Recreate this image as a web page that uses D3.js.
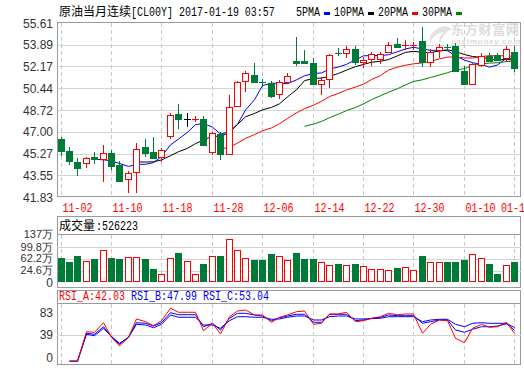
<!DOCTYPE html>
<html><head><meta charset="utf-8">
<script src="https://cdn.jsdelivr.net/npm/d3@7"></script>
<style>body{margin:0;background:#fff;overflow:hidden}</style>
</head><body><svg id="c" width="524" height="369"></svg>
<script>
const dates = ["11-02","11-03","11-04","11-07","11-08","11-09","11-10","11-11","11-14","11-15","11-16","11-17","11-18","11-21","11-22","11-23","11-24","11-25","11-28","11-29","11-30","12-01","12-02","12-05","12-06","12-07","12-08","12-09","12-12","12-13","12-14","12-15","12-16","12-19","12-20","12-21","12-22","12-23","12-26","12-27","12-28","12-29","12-30","01-03","01-04","01-05","01-06","01-09","01-10","01-11","01-12","01-13","01-16","01-17","01-18"];
const open  = [46.40,45.47,44.60,44.50,45.00,44.86,45.31,44.34,43.23,43.79,45.77,45.39,45.02,46.66,48.38,47.98,47.97,47.98,45.42,46.82,45.24,49.04,51.04,51.49,50.90,50.88,49.96,50.96,52.60,52.60,52.42,50.80,51.15,53.25,53.21,53.53,52.55,52.74,52.74,53.34,53.92,53.79,53.79,54.21,52.55,53.47,53.69,53.81,51.81,50.78,52.28,53.02,53.08,52.81,53.34];
const close = [45.50,44.70,44.15,44.89,44.84,45.29,44.28,43.12,43.71,45.65,45.34,44.94,45.55,48.30,47.98,47.98,48.01,45.97,46.87,45.24,48.93,50.91,51.63,50.96,50.86,49.85,50.91,51.44,52.47,52.47,50.78,51.10,53.05,53.22,53.53,52.55,52.70,53.18,53.18,53.87,53.73,53.83,53.83,52.50,53.34,53.73,53.67,51.83,50.78,52.34,53.02,52.60,52.68,53.55,52.07];
const high  = [46.55,45.81,44.89,45.02,45.39,45.95,45.55,44.68,43.87,46.13,46.45,46.61,45.71,48.51,49.20,48.46,48.24,48.24,47.00,47.00,49.91,51.04,51.81,52.42,51.17,51.04,51.10,51.65,54.48,53.47,52.84,51.31,53.18,53.61,53.81,53.81,52.94,53.34,53.29,54.13,54.40,54.26,54.13,55.32,53.53,53.95,53.92,54.00,52.23,52.42,53.21,53.21,53.21,53.81,53.81];
const low   = [45.05,44.39,43.52,44.15,44.44,43.04,43.97,43.02,42.17,42.17,44.98,44.84,44.58,46.45,47.19,47.40,47.79,45.89,45.18,44.76,45.18,48.96,50.15,50.88,50.52,49.69,49.59,50.75,52.23,52.34,50.75,49.91,50.49,52.97,52.86,52.28,52.07,52.23,52.36,53.21,53.65,53.47,53.47,52.15,52.15,52.86,53.39,51.75,50.70,50.70,52.15,52.50,52.60,52.55,51.75];
// volume, in 万
const volume = [66.6,53.7,72.0,55.9,62.4,91.3,66.6,62.4,67.8,67.8,62.4,30.2,13.2,64.6,82.6,55.9,13.2,46.3,72.0,72.0,125.7,91.3,64.6,59.2,59.2,78.5,72.0,59.2,82.6,62.4,62.4,52.7,43.1,46.3,43.1,46.3,39.9,30.2,30.2,27.0,34.4,36.7,27.0,72.0,52.7,52.7,52.7,52.7,59.2,78.5,65.6,46.3,14.1,43.1,52.6223];
const lastVolume = "526223";
const rsiA = [null,-12,-12,45.2,44.0,62.6,34.3,17.4,34.3,69.8,64.5,56.8,66.5,90.5,82.8,82.8,82.8,47.1,61.4,40.7,74.2,85.3,87.2,77.5,77.5,63.4,73.1,77.5,83.9,85.3,59.5,61.4,79.5,79.5,82.8,64.5,66.5,71.1,74.2,80.8,78.1,79.5,79.5,42.1,59.5,67.8,66.5,32.4,23.8,51.7,59.5,53.7,54.8,63.4,42.03];
const rsiB = [null,-12,-12,42.1,40.1,54.8,35,20.7,34.3,62.6,61.4,56.2,62.6,82.0,78.1,78.1,78.1,54.8,61.4,48.4,71.1,80.8,80.8,77.5,75.6,66.5,72.3,75.6,78.9,78.9,63.4,63.4,78.9,78.9,78.9,66.5,67.8,71.0,73.1,77.5,76.2,76.2,76.2,61.4,64.5,67.8,67.8,48.4,44.0,49.8,54.8,54.8,56.2,60.5,47.99];
const rsiC = [null,-12,-12,40.1,37.4,51.7,36,22.7,34.5,59.5,58.1,52.9,59.5,77.5,73.1,73.1,73.1,58.1,58.1,51.7,66.5,74.2,74.2,73.1,73.1,69.2,69.8,73.1,75.6,75.6,67.8,67.8,74.2,75.6,75.6,69.8,69.8,70.5,71.1,74.2,74.2,74.2,74.2,64.5,67.8,69.2,69.2,59.5,54.8,61.4,62.6,61.4,61.4,61.4,53.04];
const priceTicks = [55.61,53.89,52.17,50.44,48.72,47.00,45.27,43.55,41.83];
const volTicks = [137,99.8,62.2,24.6];
const volTickLabels = ["137万","99.8万","62.2万","24.6万"];
const rsiTicks = [83,39];
const maPeriods = [5,10,20,30];
const maColors = ["#0000ff","#000000","#ff0000","#008000"];
const maNames = ["5PMA","10PMA","20PMA","30PMA"];

const RED = "#ff0000", GREEN = "#007a37", BORDER = "#9a9a9a", GRID = "#d4d4d4", VGRID = "#c8c8c8";
const svg = d3.select("#c");
const L = 57, R = 521;
const x = d3.scaleLinear().domain([0, dates.length - 1]).range([60.5, 514.1]);
const cx = i => Math.round(x(i)) + 0.5;
const yP = d3.scaleLinear().domain([41.83, 55.61]).range([197, 23]);
const yV = d3.scaleLinear().domain([-13, 137]).range([282.4, 235.7]);
const yR = d3.scaleLinear().domain([0, 100]).range([355, 303.4]);
const mono = "'Liberation Mono','DejaVu Sans Mono',monospace";
const cjk = "'Noto Sans CJK SC','Noto Sans',sans-serif";
const sans = "'Liberation Sans',Arial,sans-serif";
// narrow monospace text (6px per character, like a bitmap SimSun)
function monoText(g, tx, ty, str, fill) {
  return g.append("text").attr("transform", `translate(${tx},${ty}) scale(0.8333,1)`)
    .attr("font-family", mono).attr("font-size", 12).attr("fill", fill || "#000").text(str);
}

// ---------- title & legend
svg.append("text").attr("x", 59).attr("y", 16).attr("font-family", cjk).attr("font-size", 12).attr("fill", "#000").text("原油当月连续");
monoText(svg, 131, 16, "[CL00Y] 2017-01-19 03:57");
let lx = 296;
maNames.forEach((n, k) => {
  const w = n.length * 6;
  monoText(svg, lx, 16, n);
  svg.append("rect").attr("x", lx + w + 4).attr("y", 12).attr("width", 6).attr("height", 3).attr("fill", maColors[k]);
  lx += w + 14;
});

// ---------- watermark
svg.append("path").attr("d", "M446,26 C436,27 428,34 430,43 C432,37 437,33 444,32 C440,36 438,40 440,44 C442,36 446,31 452,29 Z")
  .attr("fill", "#e2e2e2");
svg.append("text").attr("x", 451).attr("y", 34).attr("font-family", cjk).attr("font-size", 13).attr("font-weight", "bold")
  .attr("fill", "#dcdcdc").attr("textLength", 68).text("东方财富网");
svg.append("text").attr("x", 451).attr("y", 44).attr("font-family", sans).attr("font-size", 8).attr("font-weight", "bold").attr("font-style", "italic")
  .attr("fill", "#dcdcdc").attr("textLength", 69).text("eastmoney.com");

// ---------- grids helpers
const labelIdx = d3.range(0, dates.length, 6);
function vgrid(y0, y1) {
  svg.append("g").selectAll("line").data(labelIdx).join("line")
    .attr("x1", i => cx(i)).attr("x2", i => cx(i)).attr("y1", y0).attr("y2", y1)
    .attr("stroke", VGRID).attr("stroke-dasharray", "4,3");
}

// ---------- main panel
const gMain = svg.append("g");
gMain.selectAll("line.h").data(priceTicks.slice(1, -1)).join("line")
  .attr("x1", L).attr("x2", R).attr("y1", d => Math.round(yP(d)) + 0.5).attr("y2", d => Math.round(yP(d)) + 0.5)
  .attr("stroke", GRID);
vgrid(yP(55.61), yP(41.83));
gMain.selectAll("text.pl").data(priceTicks).join("text")
  .attr("x", 53).attr("y", d => yP(d) + 4.5).attr("text-anchor", "end")
  .attr("font-family", sans).attr("font-size", 12).attr("fill", "#333").text(d => d.toFixed(2));

// MA lines
maPeriods.forEach((p, k) => {
  const ma = close.map((_, i) => i < p - 1 ? null : d3.mean(close.slice(i - p + 1, i + 1)));
  const line = d3.line().defined(d => d != null).x((d, i) => cx(i)).y(d => yP(d));
  svg.append("path").attr("d", line(ma)).attr("fill", "none").attr("stroke", maColors[k]).attr("stroke-width", 1);
});

// candles
const gC = svg.append("g").attr("shape-rendering", "crispEdges");
dates.forEach((d, i) => {
  const o = open[i], c = close[i], h = high[i], l = low[i];
  const up = c > o, flat = c === o;
  const col = flat ? "#000" : (up ? RED : GREEN);
  const xc = cx(i);
  const yt = Math.round(yP(Math.max(o, c))), yb = Math.round(yP(Math.min(o, c)));
  const yh = Math.round(yP(h)), yl = Math.round(yP(l));
  if (yb - yt < 2) {
    gC.append("line").attr("x1", xc).attr("x2", xc).attr("y1", yh).attr("y2", yl).attr("stroke", col);
    gC.append("line").attr("x1", xc - 3.5).attr("x2", xc + 3.5).attr("y1", yt + 0.5).attr("y2", yt + 0.5).attr("stroke", col).attr("stroke-width", Math.max(1, yb - yt));
  } else if (up) {
    gC.append("line").attr("x1", xc).attr("x2", xc).attr("y1", yh).attr("y2", yt).attr("stroke", col);
    gC.append("line").attr("x1", xc).attr("x2", xc).attr("y1", yb).attr("y2", yl).attr("stroke", col);
    gC.append("rect").attr("x", xc - 3).attr("y", yt + 0.5).attr("width", 6).attr("height", yb - yt)
      .attr("fill", "#fff").attr("stroke", col);
  } else {
    gC.append("line").attr("x1", xc).attr("x2", xc).attr("y1", yh).attr("y2", yl).attr("stroke", col);
    gC.append("rect").attr("x", xc - 3.5).attr("y", yt).attr("width", 7).attr("height", yb - yt + 1).attr("fill", col);
  }
});
svg.append("rect").attr("x", L + 0.5).attr("y", Math.round(yP(55.61)) - 0.5).attr("width", R - L - 1)
  .attr("height", Math.round(yP(41.83)) - Math.round(yP(55.61))).attr("fill", "none").attr("stroke", BORDER);

// date labels (the last one runs off the right edge, as in the source)
const gD = svg.append("g");
labelIdx.forEach(i => monoText(gD, Math.min(cx(i) + 1, 501), 212, dates[i], RED));

// ---------- volume panel
svg.append("rect").attr("x", L + 0.5).attr("y", 216.5).attr("width", R - L - 1).attr("height", 71).attr("fill", "none").attr("stroke", BORDER);
svg.append("line").attr("x1", L).attr("x2", R).attr("y1", 234.5).attr("y2", 234.5).attr("stroke", BORDER);
svg.append("g").selectAll("line").data(volTicks.slice(1)).join("line")
  .attr("x1", L).attr("x2", R).attr("y1", d => Math.round(yV(d)) + 0.5).attr("y2", d => Math.round(yV(d)) + 0.5).attr("stroke", GRID);
vgrid(235, 282);
svg.append("text").attr("x", 59).attr("y", 230).attr("font-family", cjk).attr("font-size", 12).text("成交量");
monoText(svg, 96, 230, ":" + lastVolume);
const gV = svg.append("g").attr("shape-rendering", "crispEdges");
volume.forEach((v, i) => {
  const up = close[i] >= open[i];
  const xc = cx(i), yt = Math.round(yV(v)), yb = Math.round(yV(-13));
  if (up) gV.append("rect").attr("x", xc - 3).attr("y", yt + 0.5).attr("width", 6).attr("height", yb - yt - 1).attr("fill", "#fff").attr("stroke", RED);
  else gV.append("rect").attr("x", xc - 3.5).attr("y", yt).attr("width", 7).attr("height", yb - yt).attr("fill", GREEN);
});
svg.append("g").selectAll("text").data(volTicks).join("text")
  .attr("x", 53).attr("y", (d, k) => yV(d) + (k === 0 ? 2.5 : 3.5)).attr("text-anchor", "end")
  .attr("font-family", sans).attr("font-size", 11).attr("fill", "#333").text((d, k) => volTickLabels[k]);
svg.append("text").attr("x", 53).attr("y", yV(-13) + 4.5).attr("text-anchor", "end")
  .attr("font-family", sans).attr("font-size", 12).attr("fill", "#333").text("0");

// ---------- RSI panel
svg.append("rect").attr("x", L + 0.5).attr("y", 290.5).attr("width", R - L - 1).attr("height", 74).attr("fill", "none").attr("stroke", BORDER);
svg.append("line").attr("x1", L).attr("x2", R).attr("y1", 303.5).attr("y2", 303.5).attr("stroke", BORDER);
svg.append("line").attr("x1", L).attr("x2", R).attr("y1", Math.round(yR(39)) + 0.5).attr("y2", Math.round(yR(39)) + 0.5).attr("stroke", GRID);
vgrid(304, 364);
const hdr = [["RSI_A:" + rsiA[54].toFixed(2), RED], ["RSI_B:" + rsiB[54].toFixed(2), "#0000ff"], ["RSI_C:" + rsiC[54].toFixed(2), "#0000ff"]];
hdr.forEach((h, k) => monoText(svg, 59 + k * 72, 300, h[0], h[1]));
svg.append("g").selectAll("text").data(rsiTicks.concat([0])).join("text")
  .attr("x", 53).attr("y", d => (d === 0 ? 357.7 : yR(d)) + 4.5).attr("text-anchor", "end")
  .attr("font-family", sans).attr("font-size", 12).attr("fill", "#333").text(d => d);
[[rsiC, "#0000ff"], [rsiB, "#0000ff"], [rsiA, RED]].forEach(([s, col]) => {
  const line = d3.line().defined(d => d != null).x((d, i) => cx(i)).y(d => yR(d));
  svg.append("path").attr("d", line(s)).attr("fill", "none").attr("stroke", col).attr("stroke-width", 1);
});
</script></body></html>
